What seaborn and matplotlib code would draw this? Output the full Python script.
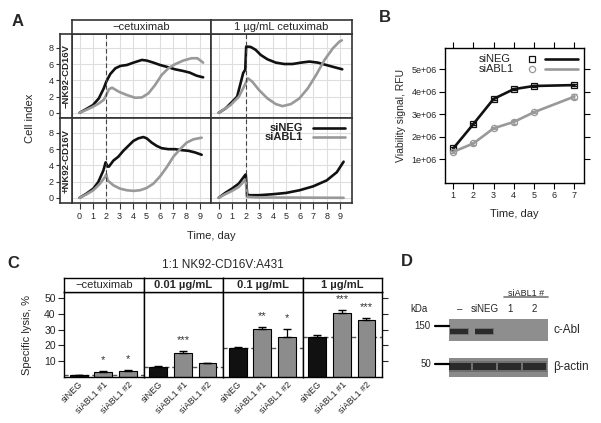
import matplotlib
matplotlib.use("Agg")
import matplotlib.pyplot as plt
import matplotlib.ticker as mticker
import pandas as pd
import seaborn as sns

sns.set_theme(style="white")
plt.rcParams["font.family"] = ["Liberation Sans", "DejaVu Sans"]

W, H = 601, 423
BLACK = "#111111"
GRAY = "#999999"
FRAME = "#333333"

# =============================================================================
# DATA
# =============================================================================
# A: cell index (day, value)
a_col_labels = ["\u2212cetuximab", "1 \u00b5g/mL cetuximab"]
a_row_labels = ["\u2212NK92-CD16V", "+NK92-CD16V"]

ci_noNK_ctrl_siNEG = [(0, 0), (0.57, 0.53), (1, 0.95), (1.44, 1.77), (1.81, 3.0), (2, 3.83),
                      (2.3, 4.77), (2.68, 5.47), (3.05, 5.76), (3.55, 5.88), (4.04, 6.17),
                      (4.67, 6.5), (5.04, 6.42), (5.53, 6.17), (6.03, 5.88), (6.65, 5.6),
                      (7.15, 5.35), (7.77, 5.14), (8.26, 4.94), (8.76, 4.57), (9.26, 4.36)]
ci_noNK_ctrl_siABL1 = [(0, 0), (0.57, 0.41), (1, 0.74), (1.44, 1.15), (1.81, 1.6), (2, 2.2),
                       (2.2, 2.9), (2.43, 3.09), (2.93, 2.6), (3.55, 2.18), (4.17, 1.85),
                       (4.67, 1.89), (5.16, 2.39), (5.66, 3.42), (6.15, 4.65), (6.65, 5.47),
                       (7.15, 5.97), (7.77, 6.42), (8.39, 6.71), (8.83, 6.71), (9.26, 6.17)]
ci_noNK_cetux_siNEG = [(0, 0), (0.5, 0.53), (1, 1.36), (1.36, 1.98), (1.61, 3.6), (1.81, 4.9),
                       (1.96, 5.3), (2.03, 8.15), (2.36, 8.1), (2.73, 7.74), (3.1, 7.12),
                       (3.6, 6.58), (4.22, 6.17), (4.84, 6.0), (5.46, 6.0), (6.08, 6.17),
                       (6.7, 6.3), (7.32, 6.17), (7.94, 5.88), (8.56, 5.6), (9.13, 5.35)]
ci_noNK_cetux_siABL1 = [(0, 0), (0.87, 0.95), (1.49, 1.98), (1.86, 3.2), (2.16, 4.24),
                        (2.48, 3.83), (2.98, 2.8), (3.6, 1.77), (4.22, 1.07), (4.71, 0.82),
                        (5.33, 1.07), (5.96, 1.77), (6.58, 3.0), (7.2, 4.65), (7.82, 6.5),
                        (8.44, 7.94), (8.93, 8.77), (9.1, 8.9)]
ci_NK_ctrl_siNEG = [(0, 0), (0.53, 0.53), (1.03, 1.13), (1.4, 1.94), (1.78, 3.35), (1.95, 4.36),
                    (2.1, 3.84), (2.2, 3.84), (2.53, 4.57), (2.9, 5.05), (3.28, 5.78),
                    (3.65, 6.38), (4.03, 6.99), (4.4, 7.31), (4.78, 7.47), (5.03, 7.31),
                    (5.4, 6.79), (5.78, 6.38), (6.15, 6.1), (6.65, 5.98), (7.15, 5.98),
                    (7.65, 5.86), (8.15, 5.78), (8.65, 5.58), (9.15, 5.29)]
ci_NK_ctrl_siABL1 = [(0, 0), (0.53, 0.44), (1.03, 0.93), (1.53, 1.74), (1.9, 2.55), (2, 2.87),
                     (2.1, 2.14), (2.53, 1.54), (3.03, 1.13), (3.53, 0.93), (4.03, 0.85),
                     (4.53, 0.93), (5.03, 1.21), (5.53, 1.74), (6.03, 2.63), (6.53, 3.76),
                     (7.03, 5.05), (7.53, 5.98), (8.03, 6.79), (8.53, 7.19), (9.15, 7.39)]
ci_NK_cetux_siNEG = [(0, 0), (0.48, 0.6), (0.98, 1.13), (1.48, 1.74), (1.93, 2.75), (2, 2.87),
                     (2.1, 0.44), (2.23, 0.32), (2.98, 0.32), (3.98, 0.44), (4.98, 0.6),
                     (5.98, 0.93), (6.98, 1.41), (7.98, 2.14), (8.73, 3.15), (9.23, 4.44)]
ci_NK_cetux_siABL1 = [(0, 0), (0.48, 0.44), (0.98, 0.85), (1.48, 1.33), (1.93, 2.14),
                      (2, 2.22), (2.08, 0.12), (2.98, 0.04), (9.23, 0.0)]

# B: viability
b_days = [1, 2, 3, 4, 5, 7]
b_siNEG = [1.49e6, 2.57e6, 3.68e6, 4.11e6, 4.25e6, 4.29e6]
b_siNEG_err = [0.05e6, 0.06e6, 0.05e6, 0.03e6, 0.03e6, 0.03e6]
b_siABL1 = [1.34e6, 1.71e6, 2.38e6, 2.66e6, 3.09e6, 3.78e6]
b_siABL1_err = [0.04e6, 0.08e6, 0.05e6, 0.08e6, 0.04e6, 0.10e6]

# C: specific lysis
c_conditions = ["\u2212cetuximab", "0.01 \u00b5g/mL", "0.1 \u00b5g/mL", "1 \u00b5g/mL"]
c_groups = ["siNEG", "siABL1 #1", "siABL1 #2"]
lysis_ctrl = [1.2, 3.2, 3.6]
lysis_001 = [6.4, 14.9, 8.5]
lysis_01 = [18.1, 30.2, 25.5]
lysis_1 = [25.5, 40.4, 36.2]
lysis_err_ctrl = [0.2, 0.4, 0.4]
lysis_err_001 = [0.3, 1.2, 0.3]
lysis_err_01 = [1.0, 1.4, 5.0]
lysis_err_1 = [1.4, 2.0, 1.0]
stars_ctrl = ["", "*", "*"]
stars_001 = ["", "***", ""]
stars_01 = ["", "**", "*"]
stars_1 = ["", "***", "***"]

# D: western blot
d_lanes = ["\u2013", "siNEG", "1", "2"]
d_cabl = [1.0, 1.0, 0.0, 0.0]
d_actin = [1.0, 1.0, 1.0, 1.0]

# =============================================================================
fig = plt.figure(figsize=(W / 100, H / 100), dpi=100)


def add_ax(x0, y0, x1, y1):
    return fig.add_axes([x0 / W, 1 - y1 / H, (x1 - x0) / W, (y1 - y0) / H])


def frame(ax, color=FRAME, lw=1.0):
    for s in ax.spines.values():
        s.set_visible(True)
        s.set_color(color)
        s.set_linewidth(lw)


def to_df(pairs, name):
    return pd.DataFrame({"day": [p[0] for p in pairs], "ci": [p[1] for p in pairs], "siRNA": name})


# ---------------------------- Panel A ----------------------------------------
a_curves = [[(ci_noNK_ctrl_siNEG, ci_noNK_ctrl_siABL1), (ci_noNK_cetux_siNEG, ci_noNK_cetux_siABL1)],
            [(ci_NK_ctrl_siNEG, ci_NK_ctrl_siABL1), (ci_NK_cetux_siNEG, ci_NK_cetux_siABL1)]]
a_x = [(72, 211), (211, 352)]
a_y = [(33.5, 118.5), (118.5, 203.5)]
a_ylim = (-0.7, 9.75)

for r in range(2):
    for c in range(2):
        ax = add_ax(a_x[c][0], a_y[r][0], a_x[c][1], a_y[r][1])
        neg, abl = a_curves[r][c]
        df = pd.concat([to_df(neg, "siNEG"), to_df(abl, "siABL1")])
        sns.lineplot(data=df, x="day", y="ci", hue="siRNA", palette={"siNEG": BLACK, "siABL1": GRAY},
                     estimator=None, sort=False, lw=1.9, legend=False, ax=ax)
        ax.axvline(2, color="#444444", lw=0.8, ls=(0, (4, 2.5)), zorder=3)
        ax.set_xlim(-0.57, 9.85)
        ax.set_ylim(*a_ylim)
        ax.set_xticks(range(10))
        ax.set_yticks([0, 2, 4, 6, 8])
        ax.grid(True, color="#dedede", lw=0.8)
        ax.set_axisbelow(True)
        ax.set_xlabel("")
        ax.set_ylabel("")
        ax.tick_params(axis="y", length=0, labelleft=False)
        if r == 1:
            ax.tick_params(axis="x", length=4, width=0.8, color=FRAME, direction="out",
                           labelsize=6.5, pad=2, bottom=True)
        else:
            ax.tick_params(axis="x", length=0, labelbottom=False)
        frame(ax, lw=1.2)
        if r == 1 and c == 1:
            for k, (lab, col) in enumerate([("siNEG", BLACK), ("siABL1", GRAY)]):
                yy = 0.89 - k * 0.11
                ax.text(0.65, yy, lab, transform=ax.transAxes, ha="right", va="center",
                        fontsize=8, fontweight="bold", color="#222222")
                ax.plot([0.72, 0.95], [yy, yy], transform=ax.transAxes, color=col, lw=1.9)

    # left strip with y axis
    sax = add_ax(60, a_y[r][0], 72, a_y[r][1])
    sax.set_ylim(*a_ylim)
    sax.set_xticks([])
    sax.set_yticks([0, 2, 4, 6, 8])
    sax.tick_params(axis="y", length=3, width=0.8, color=FRAME, direction="out", labelsize=6.5, pad=1.5,
                    left=True)
    sax.text(0.5, 0.5, a_row_labels[r], transform=sax.transAxes, rotation=90, ha="center",
             va="center", fontsize=6.8, fontweight="bold")
    sax.set_facecolor("white")
    frame(sax, lw=1.2)

for c in range(2):
    tax = add_ax(a_x[c][0], 20, a_x[c][1], 33.5)
    tax.set_xticks([])
    tax.set_yticks([])
    tax.text(0.5, 0.45, a_col_labels[c], transform=tax.transAxes, ha="center", va="center", fontsize=8)
    frame(tax, lw=1.2)

fig.text(30 / W, 1 - 118 / H, "Cell index", rotation=90, ha="center", va="center", fontsize=8)
fig.text(211 / W, 1 - 236 / H, "Time, day", ha="center", va="center", fontsize=8)

# ---------------------------- Panel B ----------------------------------------
ax_b = add_ax(445, 48, 584, 183)
for vals, errs, col, mk, name in [(b_siNEG, b_siNEG_err, BLACK, "s", "siNEG"),
                                   (b_siABL1, b_siABL1_err, GRAY, "o", "siABL1")]:
    dfb = pd.DataFrame({"day": b_days, "rfu": vals})
    sns.lineplot(data=dfb, x="day", y="rfu", color=col, lw=1.9, marker=mk, markersize=4.5,
                 mfc="none", mec=col, mew=0.9, ax=ax_b)
    ax_b.errorbar(b_days, vals, yerr=errs, fmt="none", ecolor=col, elinewidth=0.9, capsize=2.5)
ax_b.set_xlim(0.59, 7.48)
ax_b.set_ylim(-0.04e6, 5.93e6)
ax_b.set_xticks(range(1, 8))
ax_b.set_yticks([1e6, 2e6, 3e6, 4e6, 5e6])
ax_b.yaxis.set_major_formatter(mticker.FuncFormatter(lambda v, p: f"{v:.0e}"))
ax_b.tick_params(axis="both", length=4, width=0.8, direction="out", labelsize=6.5, pad=2,
                 top=True, right=True, bottom=True, left=True, color="black")
ax_b.set_xlabel("Time, day", fontsize=8, labelpad=6)
ax_b.set_ylabel("Viability signal, RFU", fontsize=7.5, labelpad=4)
frame(ax_b, color="black", lw=1.0)
for k, (lab, col, mk) in enumerate([("siNEG", BLACK, "s"), ("siABL1", GRAY, "o")]):
    yy = 0.92 - k * 0.075
    ax_b.text(0.245, yy, lab, transform=ax_b.transAxes, ha="left", va="center", fontsize=8, color="#222222")
    ax_b.plot([0.627], [yy], transform=ax_b.transAxes, marker=mk, ms=4.5, mfc="none", mec=col, mew=0.9)
    ax_b.plot([0.72, 0.96], [yy, yy], transform=ax_b.transAxes, color=col, lw=1.9)

# ---------------------------- Panel C ----------------------------------------
c_vals = [lysis_ctrl, lysis_001, lysis_01, lysis_1]
c_errs = [lysis_err_ctrl, lysis_err_001, lysis_err_01, lysis_err_1]
c_stars = [stars_ctrl, stars_001, stars_01, stars_1]
c_x = [64, 143.5, 223, 302.5, 382]
for i in range(4):
    ax = add_ax(c_x[i], 291.7, c_x[i + 1], 376.7)
    ax.axhline(c_vals[i][0], color="#555555", lw=1.0, ls=(0, (3, 2)), zorder=0.5)
    sns.barplot(x=c_groups, y=c_vals[i], hue=c_groups, palette=[BLACK, "#8c8c8c", "#8c8c8c"],
                edgecolor="black", linewidth=0.8, width=0.73, legend=False, ax=ax, zorder=2)
    ax.errorbar(range(3), c_vals[i], yerr=[[0, 0, 0], c_errs[i]], fmt="none", ecolor="black",
                elinewidth=0.9, capsize=3, zorder=3)
    for j in range(3):
        if c_stars[i][j]:
            ax.text(j, c_vals[i][j] + c_errs[i][j] + 3.8, c_stars[i][j], ha="center", va="bottom",
                    fontsize=8, color="#333333")
    ax.set_xlim(-0.6, 2.63)
    ax.set_ylim(0, 54.2)
    ax.set_yticks([10, 20, 30, 40, 50])
    ax.set_xlabel("")
    ax.set_ylabel("")
    ax.tick_params(axis="x", length=0, labelsize=6.5, pad=2)
    for lbl in ax.get_xticklabels():
        lbl.set_rotation(45)
        lbl.set_ha("right")
        lbl.set_va("top")
        lbl.set_rotation_mode("anchor")
    if i == 0:
        ax.tick_params(axis="y", length=4, width=0.8, direction="out", labelsize=7.5, pad=2, left=True)
    elif i == 3:
        ax.tick_params(axis="y", length=4, width=0.8, direction="out", labelleft=False,
                       left=False, right=True)
    else:
        ax.tick_params(axis="y", length=0, labelleft=False)
    frame(ax, color="black", lw=1.0)
    tax = add_ax(c_x[i], 277.7, c_x[i + 1], 291.7)
    tax.set_xticks([])
    tax.set_yticks([])
    tax.text(0.5, 0.45, c_conditions[i], transform=tax.transAxes, ha="center", va="center", fontsize=8,
             fontweight="normal" if i == 0 else "bold")
    frame(tax, color="black", lw=1.0)

fig.text(26.7 / W, 1 - 335 / H, "Specific lysis, %", rotation=90, ha="center", va="center", fontsize=8)
fig.text(223 / W, 1 - 265 / H, "1:1 NK92-CD16V:A431", ha="center", va="center", fontsize=8.5)

# ---------------------------- Panel D ----------------------------------------
lane_x = [0, 1, 2, 3]
for y0, y1, vals, bc, bh, bw, bg in [(319.3, 341, d_cabl, 0.43, 0.2, 0.72, "#8e8e8e"),
                                     (357.7, 376.7, d_actin, 0.53, 0.34, 0.94, "#8a8a8a")]:
    bax = add_ax(449, y0, 548.3, y1)
    bax.set_facecolor(bg)
    bax.set_xlim(-0.42, 3.56)
    bax.set_ylim(0, 1)
    for xx, v in zip(lane_x, vals):
        if v > 0:
            bax.bar(xx, bh * 1.6, bottom=bc - bh * 0.8, width=bw * 1.06, color="#555555",
                    alpha=0.5 * v, edgecolor="none", linewidth=0)
            bax.bar(xx, bh, bottom=bc - bh / 2, width=bw, color="#2a2a2a", alpha=v,
                    edgecolor="none", linewidth=0)
    bax.set_xticks([])
    bax.set_yticks([])
    for s in bax.spines.values():
        s.set_visible(False)

oax = add_ax(400, 250, 601, 400)
oax.set_xlim(400, 601)
oax.set_ylim(400, 250)
oax.axis("off")
oax.text(410, 309, "kDa", fontsize=7, va="center", ha="left")
for xx, lab in zip([459.3, 485, 510, 534.3], d_lanes):
    oax.text(xx, 309, lab, fontsize=7, va="center", ha="center")
oax.text(526, 293, "siABL1 #", fontsize=6.5, va="center", ha="center")
oax.plot([504, 548.3], [297, 297], color="#777777", lw=1.2)
oax.text(430, 326, "150", fontsize=7, va="center", ha="right")
oax.plot([435, 448.5], [326, 326], color="black", lw=1.6)
oax.text(431, 364.3, "50", fontsize=7, va="center", ha="right")
oax.plot([435, 448.5], [364.3, 364.3], color="black", lw=1.6)
oax.text(553, 330, "c-Abl", fontsize=8.5, va="center", ha="left")
oax.text(553, 367, "\u03b2-actin", fontsize=8.5, va="center", ha="left")

# panel letters
for lab, x, y in [("A", 18, 21), ("B", 385, 18), ("C", 13, 263), ("D", 407, 262)]:
    fig.text(x / W, 1 - y / H, lab, fontsize=12, fontweight="bold", ha="center", va="center")

fig.savefig("out.png", dpi=100)
